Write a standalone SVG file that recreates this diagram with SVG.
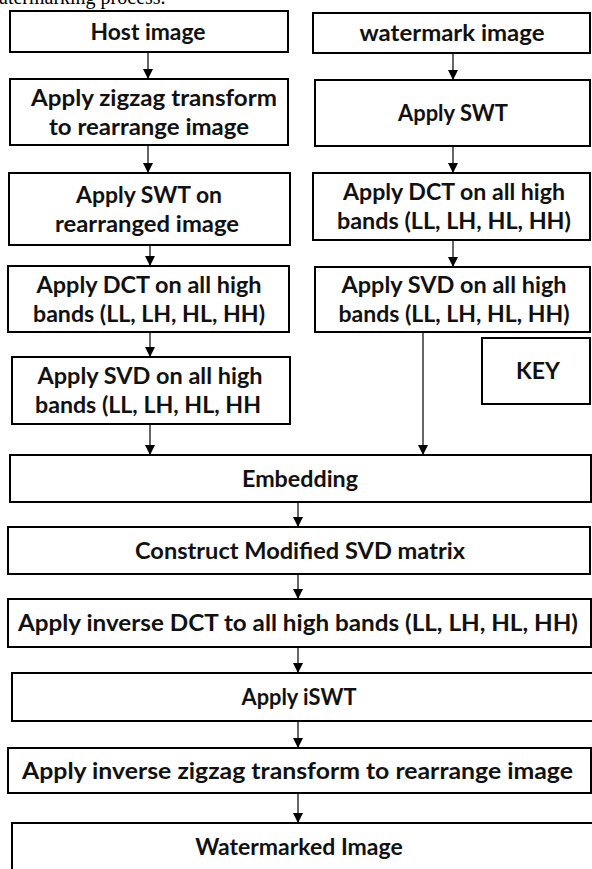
<svg xmlns="http://www.w3.org/2000/svg" width="592" height="869" viewBox="0 0 592 869">
  <style>
    .box { fill: #ffffff; stroke: #000000; stroke-width: 2; }
    .lbl { font-family: Lato, "Open Sans", "Liberation Sans", sans-serif; font-weight: 700; font-size: 23px; fill: #111111; text-anchor: middle; }
    .edge { stroke: #000000; stroke-width: 1.2; fill: none; marker-end: url(#arrow); }
    .caption { font-family: "Liberation Serif", "Times New Roman", serif; font-size: 20px; fill: #000000; }
  </style>
  <defs>
    <marker id="arrow" markerWidth="10" markerHeight="10" refX="10" refY="5" orient="auto" markerUnits="userSpaceOnUse">
      <path d="M0,0 L10,5 L0,10 z" fill="#000000"/>
    </marker>
  </defs>

  <rect width="592" height="869" fill="#ffffff"/>

  <!-- caption line clipped at the top edge -->
  <text class="caption" x="-1" y="4">atermarking process.</text>

  <!-- host image branch -->
  <g id="host-image">
    <rect class="box" x="10" y="11" width="278" height="41"/>
    <text class="lbl" x="148" y="39.5" textLength="115" lengthAdjust="spacingAndGlyphs">Host image</text>
  </g>
  <g id="zigzag">
    <rect class="box" x="10" y="79" width="278" height="66"/>
    <text class="lbl" x="154" y="105.5" textLength="246" lengthAdjust="spacingAndGlyphs">Apply zigzag transform</text>
    <text class="lbl" x="149" y="134.5" textLength="200" lengthAdjust="spacingAndGlyphs">to rearrange image</text>
  </g>
  <g id="swt-host">
    <rect class="box" x="9" y="173" width="281" height="72"/>
    <text class="lbl" x="149" y="202.5" textLength="146" lengthAdjust="spacingAndGlyphs">Apply SWT on</text>
    <text class="lbl" x="147" y="231.5" textLength="184" lengthAdjust="spacingAndGlyphs">rearranged image</text>
  </g>
  <g id="dct-host">
    <rect class="box" x="8" y="266" width="281" height="66"/>
    <text class="lbl" x="149" y="292.5" textLength="225" lengthAdjust="spacingAndGlyphs">Apply DCT on all high</text>
    <text class="lbl" x="149" y="321.5" textLength="232" lengthAdjust="spacingAndGlyphs">bands (LL, LH, HL, HH)</text>
  </g>
  <g id="svd-host">
    <rect class="box" x="12" y="357" width="278" height="67"/>
    <text class="lbl" x="150" y="384" textLength="225" lengthAdjust="spacingAndGlyphs">Apply SVD on all high</text>
    <text class="lbl" x="148" y="413" textLength="226" lengthAdjust="spacingAndGlyphs">bands (LL, LH, HL, HH</text>
  </g>

  <!-- watermark branch -->
  <g id="watermark-image">
    <rect class="box" x="313" y="13" width="277" height="40"/>
    <text class="lbl" x="452" y="41" textLength="185" lengthAdjust="spacingAndGlyphs">watermark image</text>
  </g>
  <g id="swt-watermark">
    <rect class="box" x="315" y="80" width="275" height="66"/>
    <text class="lbl" x="453" y="121" textLength="110" lengthAdjust="spacingAndGlyphs">Apply SWT</text>
  </g>
  <g id="dct-watermark">
    <rect class="box" x="313" y="173" width="277" height="67"/>
    <text class="lbl" x="454" y="200" textLength="222" lengthAdjust="spacingAndGlyphs">Apply DCT on all high</text>
    <text class="lbl" x="454" y="229" textLength="234" lengthAdjust="spacingAndGlyphs">bands (LL, LH, HL, HH)</text>
  </g>
  <g id="svd-watermark">
    <rect class="box" x="315" y="267" width="275" height="65"/>
    <text class="lbl" x="454" y="293" textLength="225" lengthAdjust="spacingAndGlyphs">Apply SVD on all high</text>
    <text class="lbl" x="454" y="322" textLength="231" lengthAdjust="spacingAndGlyphs">bands (LL, LH, HL, HH)</text>
  </g>
  <g id="key">
    <rect class="box" x="482" y="338" width="108" height="66"/>
    <text class="lbl" x="538" y="379">KEY</text>
  </g>

  <!-- shared pipeline -->
  <g id="embedding">
    <rect class="box" x="10" y="455" width="581" height="47"/>
    <text class="lbl" x="300" y="486.5" textLength="116" lengthAdjust="spacingAndGlyphs">Embedding</text>
  </g>
  <g id="modified-svd">
    <rect class="box" x="8" y="527" width="582" height="47"/>
    <text class="lbl" x="300" y="558.5" textLength="330" lengthAdjust="spacingAndGlyphs">Construct Modified SVD matrix</text>
  </g>
  <g id="inverse-dct">
    <rect class="box" x="8" y="599" width="583" height="48"/>
    <text class="lbl" x="298" y="631" textLength="560" lengthAdjust="spacingAndGlyphs">Apply inverse DCT to all high bands (LL, LH, HL, HH)</text>
  </g>
  <g id="iswt">
    <rect class="box" x="12" y="673" width="600" height="48"/>
    <text class="lbl" x="299" y="705" textLength="115" lengthAdjust="spacingAndGlyphs">Apply iSWT</text>
  </g>
  <g id="inverse-zigzag">
    <rect class="box" x="8" y="748" width="583" height="45"/>
    <text class="lbl" x="297.5" y="778.5" textLength="551" lengthAdjust="spacingAndGlyphs">Apply inverse zigzag transform to rearrange image</text>
  </g>
  <g id="watermarked-image">
    <rect class="box" x="12" y="823" width="600" height="60"/>
    <text class="lbl" x="299" y="855">Watermarked Image</text>
  </g>

  <!-- connectors -->
  <g id="connectors">
    <line class="edge" x1="148" y1="52" x2="148" y2="79"/>
    <line class="edge" x1="148" y1="145" x2="148" y2="173"/>
    <line class="edge" x1="150" y1="245" x2="150" y2="266"/>
    <line class="edge" x1="150" y1="332" x2="150" y2="357"/>
    <line class="edge" x1="150" y1="424" x2="150" y2="455"/>
    <line class="edge" x1="453" y1="53" x2="453" y2="80"/>
    <line class="edge" x1="453" y1="146" x2="453" y2="173"/>
    <line class="edge" x1="453" y1="240" x2="453" y2="267"/>
    <line class="edge" x1="423" y1="332" x2="423" y2="455"/>
    <line class="edge" x1="298" y1="502" x2="298" y2="527"/>
    <line class="edge" x1="298" y1="574" x2="298" y2="599"/>
    <line class="edge" x1="298" y1="647" x2="298" y2="673"/>
    <line class="edge" x1="298" y1="721" x2="298" y2="748"/>
    <line class="edge" x1="298" y1="793" x2="298" y2="823"/>
  </g>
</svg>
